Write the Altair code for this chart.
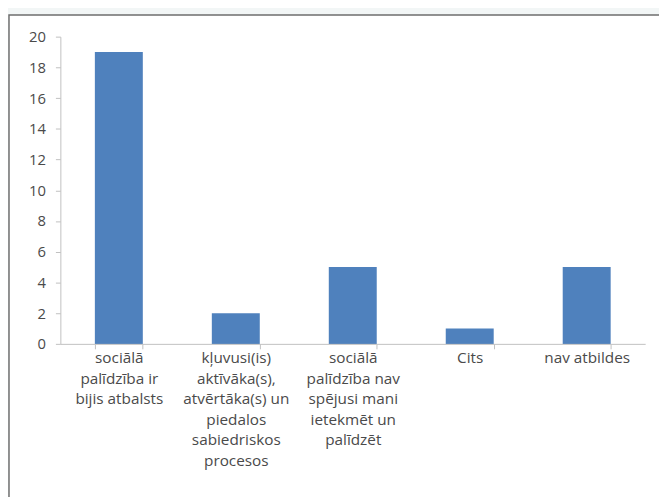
import altair as alt
import pandas as pd

label_lines = [
    ["sociālā", "palīdzība ir", "bijis atbalsts"],
    ["kļuvusi(is)", "aktīvāka(s),", "atvērtāka(s) un", "piedalos", "sabiedriskos", "procesos"],
    ["sociālā", "palīdzība nav", "spējusi mani", "ietekmēt un", "palīdzēt"],
    ["Cits"],
    ["nav atbildes"],
]
categories = ["\n".join(l) for l in label_lines]
values = [19, 2, 5, 1, 5]
y_ticks = [0, 2, 4, 6, 8, 10, 12, 14, 16, 18, 20]

df = pd.DataFrame({"cat": categories, "val": values})

frame = alt.Chart(alt.Data(values=[{}])).mark_rect(
    fill="white", stroke="#6e6e6e", strokeWidth=1.5
).encode(
    x=alt.value(-52), x2=alt.value(640), y=alt.value(-22), y2=alt.value(500)
)

bars = alt.Chart(df).mark_bar(color="#4f81bd").encode(
    x=alt.X("cat:N", sort=categories, title=None,
            scale=alt.Scale(paddingInner=0.59, paddingOuter=0.295),
            axis=alt.Axis(labelAngle=0, labelExpr="split(datum.label, '\\n')",
                          tickBand="extent", labelLineHeight=20.8, labelFontSize=15.5,
                          labelPadding=2, tickSize=5, labelLimit=200, zindex=1)),
    y=alt.Y("val:Q", title=None, scale=alt.Scale(domain=[0, 20]),
            axis=alt.Axis(values=y_ticks, grid=False, tickSize=5, labelPadding=10,
                          labelFontSize=15, zindex=1)),
)

chart = alt.layer(frame, bars).properties(
    width=592, height=311,
    autosize=alt.AutoSizeParams(type="none"),
    padding={"left": 53, "top": 26, "right": 14, "bottom": 152},
    background="#f2f6f6",
).configure_view(stroke=None).configure_axis(
    labelFont="Open Sans", labelColor="#4a4a4a",
    domainColor="#c0c0c0", tickColor="#c0c0c0",
)

chart.save("out.html", embed_options={"renderer": "svg", "actions": False})
